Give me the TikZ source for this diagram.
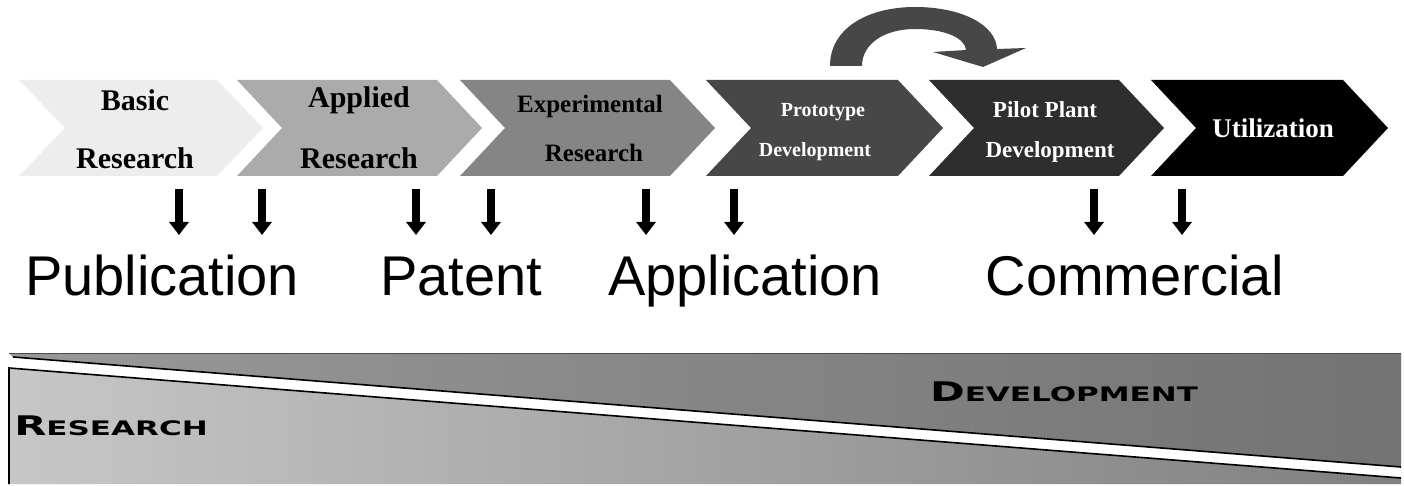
\documentclass[tikz,border=0pt]{standalone}
\usepackage{fontspec}
\setmainfont{Liberation Serif}
\newfontfamily\arialfont{Liberation Sans}
\newfontfamily\copperfont[FakeStretch=1.55]{DejaVu Sans}
\usetikzlibrary{arrows.meta}
\tikzset{
  chevlabel/.style={font=\bfseries, inner sep=0pt, anchor=center},
  bigword/.style={font=\arialfont\fontsize{56}{60}\selectfont, inner sep=0pt, anchor=base},
  downarrow/.style={line width=8pt, -{Triangle[width=19pt,length=13pt]}},
  bandword/.style={font=\copperfont\bfseries, inner sep=0pt, anchor=center},
  bandline/.style={line width=1.6pt, black}
}
\newcommand\chevshape[5]{% x, width, depth, fill, name
  \path[fill=#4] (#1,80) -- (#1+#2,80) -- (#1+#2+#3,128) -- (#1+#2,176) -- (#1,176) -- (#1+#3,128) -- cycle;
  \coordinate (#5) at (#1+#2/2+#3/2,128);
}
\begin{document}
\begin{tikzpicture}[x=1pt,y=-1pt]
\useasboundingbox (0,0) rectangle (1404,486);
\fill[white] (0,0) rectangle (1404,486);

% chevrons
\chevshape{19}{198}{46}{black!7}{cBasic}
\chevshape{237}{200}{45}{black!33}{cApplied}
\chevshape{460}{210}{45}{black!48}{cExp}
\chevshape{706}{192}{45}{black!72}{cProto}
\chevshape{929}{190}{45}{black!82}{cPilot}
\chevshape{1151}{192}{45}{black}{cUtil}

% chevron texts
\node[chevlabel, font=\bfseries\fontsize{30}{30}\selectfont] (tBasic1) at (135,100) {Basic};
\node[chevlabel, font=\bfseries\fontsize{30}{30}\selectfont] (tBasic2) at (135,158) {Research};
\node[chevlabel, font=\bfseries\fontsize{30}{30}\selectfont] (tApp1) at (359,100) {Applied};
\node[chevlabel, font=\bfseries\fontsize{30}{30}\selectfont] (tApp2) at (359,158) {Research};
\node[chevlabel, font=\bfseries\fontsize{25}{25}\selectfont] (tExp1) at (590,106) {Experimental};
\node[chevlabel, font=\bfseries\fontsize{25}{25}\selectfont] (tExp2) at (594,153) {Research};
\node[chevlabel, white, font=\bfseries\fontsize{20}{20}\selectfont] (tPro1) at (823,112) {Prototype};
\node[chevlabel, white, font=\bfseries\fontsize{20}{20}\selectfont] (tPro2) at (815,152) {Development};
\node[chevlabel, white, font=\bfseries\fontsize{23}{23}\selectfont] (tPil1) at (1045,110) {Pilot Plant};
\node[chevlabel, white, font=\bfseries\fontsize{23}{23}\selectfont] (tPil2) at (1050,152) {Development};
\node[chevlabel, white, font=\bfseries\fontsize{27}{27}\selectfont] (tUtil) at (1273,128) {Utilization};

% curved arrow from Prototype to Pilot Plant
\fill[black!72] (830,66) .. controls (830,28) and (868,7) .. (915,7)
  .. controls (962,7) and (996,25) .. (997,49) -- (1026,48) -- (983,67) -- (933,52) -- (966,50)
  .. controls (965,38) and (945,29) .. (915,29)
  .. controls (884,29) and (862,44) .. (862,66) -- cycle;

% down arrows
\foreach \i/\x in {1/179,2/262,3/416,4/491,5/646,6/734,7/1094,8/1182}{
  \coordinate (as\i) at (\x,189);
  \coordinate (ae\i) at (\x,235);
  \draw[downarrow] (as\i) -- (ae\i);
}

% big words
\node[bigword] (wPub) at (162,295) {Publication};
\node[bigword] (wPat) at (461,295) {Patent};
\node[bigword] (wApp) at (745,295) {Application};
\node[bigword] (wCom) at (1135,295) {Commercial};

% bottom band
\path[left color=black!40, right color=black!55] (9,353) -- (1401,353) -- (1401,467) -- (13,357) -- cycle;
\path[left color=black!22, right color=black!50] (9,368) -- (1401,478) -- (1401,484) -- (9,484) -- cycle;
\draw[bandline] (13,357) -- (1401,467);
\draw[bandline] (9,484) -- (9,368) -- (1401,478);
\draw[line width=1pt, black!70] (9,353) -- (1401,353);

\node[bandword] (bRes) at (111,426) {{\fontsize{27}{27}\selectfont R}{\fontsize{20}{20}\selectfont ESEARCH}};
\node[bandword] (bDev) at (1064,392) {{\fontsize{27}{27}\selectfont D}{\fontsize{20}{20}\selectfont EVELOPMENT}};
\end{tikzpicture}
\end{document}
